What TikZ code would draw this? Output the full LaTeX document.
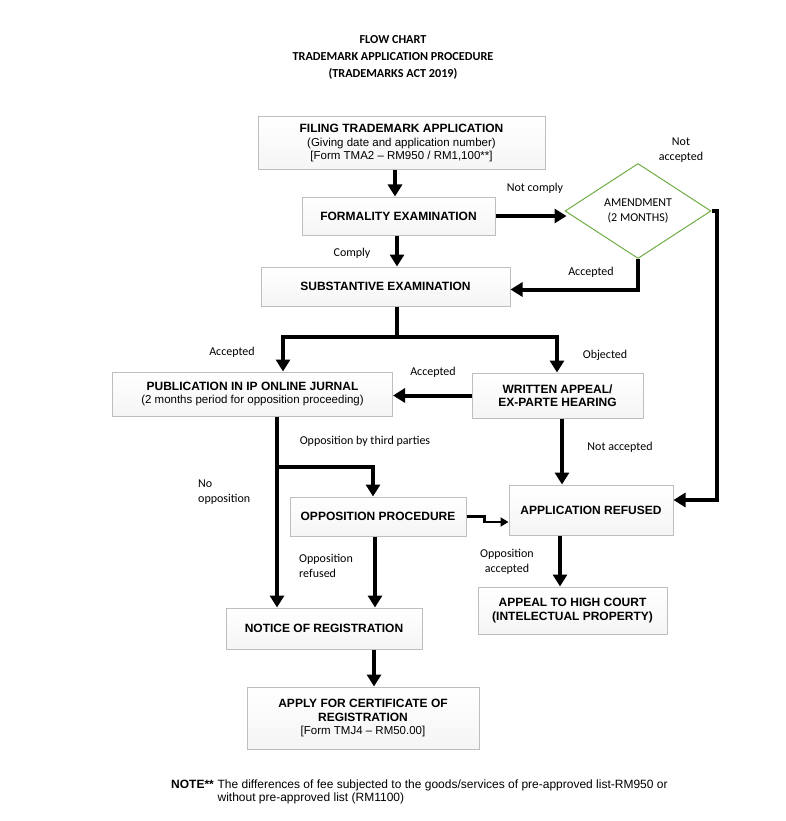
\documentclass[tikz,border=0pt]{standalone}
\usepackage{fontspec}
\setmainfont{Liberation Sans}
\newfontfamily\calfont{Carlito}
\usetikzlibrary{arrows.meta,shapes.geometric}
\definecolor{boxline}{RGB}{190,190,190}
\definecolor{dgreen}{RGB}{112,173,71}
\newcommand\boxbold[1]{{\fontsize{12}{13.5}\selectfont\bfseries #1}}
\tikzset{
  box/.style={draw=boxline, line width=1pt, top color=white, bottom color=gray!8, align=center, inner sep=2pt,
    font=\fontsize{11.5}{13.5}\selectfont},
  arr/.style={line width=4pt, -{Triangle[width=14pt,length=12pt]}},
  arrthin/.style={line width=2.2pt, -{Triangle[width=9pt,length=8pt]}},
  lbl/.style={font=\calfont\fontsize{12}{15}\selectfont, align=center, inner sep=0pt},
  ttl/.style={font=\calfont\bfseries\fontsize{12.2}{15}\selectfont, inner sep=0pt}
}
\begin{document}
\begin{tikzpicture}[x=1pt,y=-1pt]
\useasboundingbox (0,0) rectangle (786,821);
\fill[white] (0,0) rectangle (786,821);
% title
\node[ttl] (t1) at (393,40) {FLOW CHART};
\node[ttl] (t2) at (393,57) {TRADEMARK APPLICATION PROCEDURE};
\node[ttl] (t3) at (393,74) {(TRADEMARKS ACT 2019)};
% boxes
\node[box, minimum width=287pt, minimum height=53pt] (filing) at (401.5,143.5)
  {\boxbold{FILING TRADEMARK APPLICATION}\\(Giving date and application number)\\{[}Form TMA2 -- RM950 / RM1,100**{]}};
\node[box, minimum width=193pt, minimum height=38pt] (formal) at (398.5,216) {\boxbold{FORMALITY EXAMINATION}};
\node[box, minimum width=249pt, minimum height=39pt] (subst) at (385.5,286.5) {\boxbold{SUBSTANTIVE EXAMINATION}};
\node[diamond, draw=dgreen, line width=1pt, fill=white, minimum width=146pt, minimum height=95pt, inner sep=0pt, align=center,
  font=\calfont\fontsize{12}{15}\selectfont] (amend) at (638,211) {\raisebox{-2pt}{AMENDMENT}\\\raisebox{-2pt}{(2 MONTHS)}};
\node[box, minimum width=280pt, minimum height=44pt] (pub) at (252.5,394)
  {\boxbold{PUBLICATION IN IP ONLINE JURNAL}\\(2 months period for opposition proceeding)};
\node[box, minimum width=171pt, minimum height=45pt] (written) at (557.5,395.5)
  {\boxbold{WRITTEN APPEAL/}\\\boxbold{EX-PARTE HEARING}};
\node[box, minimum width=176pt, minimum height=39pt] (opp) at (378,516.5) {\boxbold{OPPOSITION PROCEDURE}};
\node[box, minimum width=164pt, minimum height=50pt] (refused) at (591,510) {\boxbold{APPLICATION REFUSED}};
\node[box, minimum width=189pt, minimum height=47pt] (appeal) at (572.5,610.5)
  {\boxbold{APPEAL TO HIGH COURT}\\\boxbold{(INTELECTUAL PROPERTY)}};
\node[box, minimum width=196pt, minimum height=41pt] (notice) at (324,628.5) {\boxbold{NOTICE OF REGISTRATION}};
\node[box, minimum width=232pt, minimum height=62pt] (apply) at (363,718)
  {\boxbold{APPLY FOR CERTIFICATE OF}\\\boxbold{REGISTRATION}\\{[}Form TMJ4 -- RM50.00{]}};
% helper coordinates
\coordinate (x395) at (395,0);
\coordinate (x397) at (397,0);
\coordinate (sp) at (397,337);
\coordinate (ax) at (283,337);
\coordinate (bx) at (557,337);
\coordinate (x562) at (562,0);
\coordinate (x277) at (277,0);
\coordinate (br) at (277,467);
\coordinate (x373) at (373,467);
\coordinate (x375) at (375,0);
\coordinate (x560) at (560,0);
\coordinate (x374) at (374,0);
\coordinate (nr) at (717,500);
% connectors
\draw[arr] (filing.south -| x395) -- (formal.north -| x395);
\draw[arr] (formal.south -| x397) -- (subst.north -| x397);
\draw[arr] (formal.east) -- ([xshift=2pt]formal.east -| amend.west);
\draw[arr] (amend.south) |- ([yshift=-3pt]subst.east);
\draw[arr] (amend.east) -| (nr) -- (nr -| refused.east);
\draw[line width=4pt] (subst.south -| sp) -- (sp);
\draw[arr] (sp) -- (ax) -- (ax |- pub.north);
\draw[arr] (sp) -- (bx) -- (bx |- written.north);
\draw[arr] (written.west) -- (written.west -| pub.east);
\draw[arr] (written.south -| x562) -- (refused.north -| x562);
\draw[arr] (pub.south -| x277) -- (notice.north -| x277);
\draw[arr] (br) -- (x373) -- (x373 |- opp.north);
\draw[arr] (opp.south -| x375) -- (notice.north -| x375);
\draw[arrthin] (opp.east) -- ++(18,0) |- ([yshift=-12pt]refused.west);
\draw[arr] (refused.south -| x560) -- (appeal.north -| x560);
\draw[arr] (notice.south -| x374) -- (apply.north -| x374);
% labels
\node[lbl] (l1) at (535,188) {Not comply};
\node[lbl] (l2) at (352,253) {Comply};
\node[lbl] (l3) at (681,150) {Not\\accepted};
\node[lbl] (l4) at (591,272) {Accepted};
\node[lbl] (l5) at (232,352) {Accepted};
\node[lbl] (l6) at (605,355) {Objected};
\node[lbl] (l7) at (433,372) {Accepted};
\node[lbl] (l8) at (365,441) {Opposition by third parties};
\node[lbl] (l9) at (620,447) {Not accepted};
\node[lbl, anchor=west, align=left] (l10) at (198,492) {No\\opposition};
\node[lbl, anchor=west, align=left] (l11) at (299,566) {Opposition\\refused};
\node[lbl] (l12) at (507,562) {Opposition\\accepted};
% note
\node[anchor=north west, inner sep=0pt, font=\fontsize{12}{13}\selectfont] (note) at (171,780)
  {\textbf{NOTE**}};
\node[anchor=north west, inner sep=0pt, align=left, font=\fontsize{12}{13}\selectfont] (notetxt) at (note.north east)
  {\ The differences of fee subjected to the goods/services of pre-approved list-RM950 or\\\ without pre-approved list (RM1100)};
\end{tikzpicture}
\end{document}
